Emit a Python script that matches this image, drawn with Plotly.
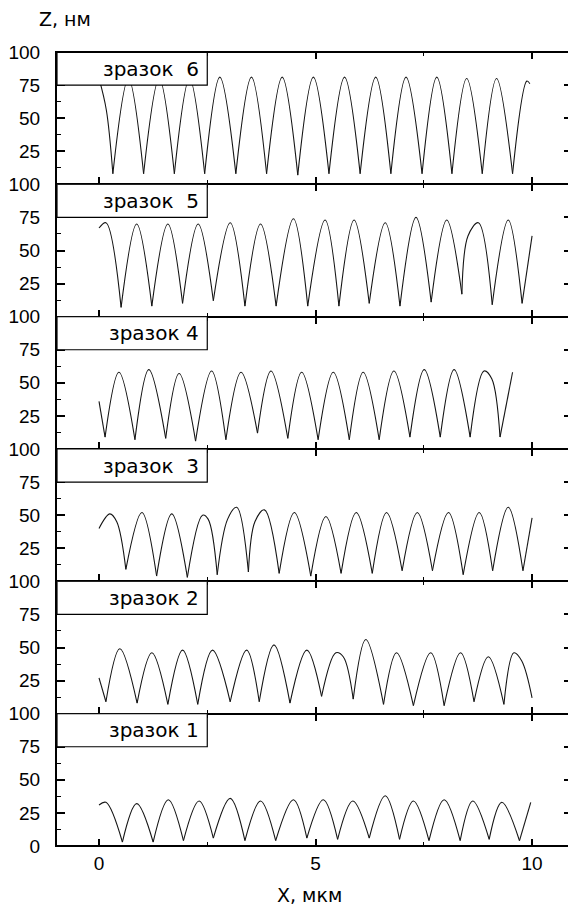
import plotly.graph_objects as go
from plotly.subplots import make_subplots

# ---- data: profile vertices, cusps = local minima ----
x6 = [0.0, 0.17, 0.32, 0.68, 1.03, 1.39, 1.74, 2.09, 2.44, 2.79, 3.16, 3.52, 3.87, 4.23, 4.59,
      4.95, 5.31, 5.67, 6.03, 6.39, 6.74, 7.09, 7.46, 7.80, 8.15, 8.49, 8.85, 9.18, 9.55, 9.88, 9.95]
z6 = [80, 56, 8, 80, 8, 80, 8, 80, 8, 81, 8, 81, 8, 81, 7,
      81, 8, 81, 8, 81, 8, 81, 8, 81, 8, 80, 8, 80, 8, 78, 76]

x5 = [0.0, 0.16, 0.51, 0.87, 1.22, 1.59, 1.93, 2.29, 2.64, 3.03, 3.37, 3.73, 4.09, 4.49, 4.82,
      5.22, 5.54, 5.89, 6.24, 6.61, 6.95, 7.32, 7.67, 8.03, 8.38, 8.52, 8.76, 9.08, 9.45, 9.77, 10.0]
z5 = [67, 71, 7, 70, 8, 70, 10, 70, 12, 71, 8, 70, 8, 74, 8,
      73, 8, 73, 10, 71, 8, 75, 11, 73, 17, 61, 71, 9, 73, 10, 61]

x4 = [0.0, 0.14, 0.46, 0.83, 1.15, 1.54, 1.85, 2.23, 2.60, 2.93, 3.28, 3.66, 3.97, 4.36, 4.68,
      5.06, 5.41, 5.78, 6.10, 6.47, 6.81, 7.18, 7.51, 7.88, 8.20, 8.57, 8.89, 9.07, 9.26, 9.55]
z4 = [36, 9, 58, 7, 60, 8, 57, 6, 59, 7, 58, 12, 59, 8, 58,
      7, 58, 7, 58, 7, 59, 9, 60, 9, 60, 9, 59, 53, 9, 58]

x3 = [0.0, 0.25, 0.41, 0.62, 0.99, 1.33, 1.68, 2.04, 2.39, 2.52, 2.73, 2.97, 3.18, 3.45, 3.60,
      3.82, 4.16, 4.51, 4.89, 5.24, 5.59, 5.94, 6.31, 6.64, 7.00, 7.35, 7.70, 8.07, 8.41, 8.78,
      9.09, 9.45, 9.79, 10.0]
z3 = [40, 51, 45, 9, 52, 4, 51, 3, 50, 47, 5, 47, 56, 7, 45,
      54, 6, 52, 4, 49, 6, 52, 6, 52, 8, 52, 8, 52, 5, 52,
      8, 56, 8, 48]

x2 = [0.0, 0.16, 0.48, 0.88, 1.22, 1.59, 1.93, 2.28, 2.62, 3.03, 3.41, 3.70, 4.04, 4.41, 4.80,
      5.14, 5.47, 5.64, 5.87, 6.16, 6.57, 6.87, 7.26, 7.66, 7.97, 8.35, 8.66, 8.99, 9.35, 9.58,
      9.76, 10.0]
z2 = [27, 9, 49, 8, 46, 7, 48, 7, 48, 9, 48, 9, 52, 8, 48,
      13, 46, 43, 11, 56, 7, 46, 6, 46, 6, 46, 9, 43, 7, 46,
      40, 12]

x1 = [0.0, 0.16, 0.54, 0.87, 1.25, 1.60, 1.95, 2.31, 2.64, 3.03, 3.37, 3.73, 4.08, 4.49, 4.80,
      5.18, 5.51, 5.86, 6.24, 6.61, 6.94, 7.26, 7.62, 7.97, 8.34, 8.63, 9.01, 9.30, 9.71, 9.97]
z1 = [31, 33, 3, 32, 3, 35, 4, 34, 6, 36, 4, 34, 4, 35, 6,
      35, 5, 34, 6, 38, 5, 34, 4, 35, 4, 34, 5, 33, 4, 33]

labels = ["зразок\u00a0 6", "зразок\u00a0 5", "зразок 4", "зразок\u00a0 3", "зразок 2", "зразок 1"]
series = [(x6, z6), (x5, z5), (x4, z4), (x3, z3), (x2, z2), (x1, z1)]

x_ticks = [0, 5, 10]
x_minor = [2.5, 7.5]
y_ticks = [25, 50, 75, 100]
y_ticks_bottom = [0, 25, 50, 75, 100]
y_minor = [12.5, 37.5, 62.5, 87.5]

XR = [-0.97, 10.83]
YR = [0, 100]


def split_at_cusps(xs, zs):
    """Break the polyline at local minima so each arch is smoothed separately."""
    X, Z = [], []
    s = 0
    for i in range(1, len(zs) - 1):
        if zs[i] < zs[i - 1] and zs[i] < zs[i + 1]:
            X += xs[s:i + 1] + [None]
            Z += zs[s:i + 1] + [None]
            s = i
    X += xs[s:]
    Z += zs[s:]
    return X, Z


fig = make_subplots(rows=6, cols=1, shared_xaxes=True, vertical_spacing=0)

for r, (xs, zs) in enumerate(series, start=1):
    X, Z = split_at_cusps(xs, zs)
    fig.add_trace(go.Scatter(x=X, y=Z, mode="lines", connectgaps=False,
                             line=dict(color="#151515", width=1.1, shape="spline", smoothing=1),
                             hoverinfo="skip", showlegend=False), row=r, col=1)

AX_FONT = dict(family="Liberation Sans, Arial, sans-serif", size=19, color="#000000")

for r in range(1, 7):
    bottom = (r == 6)
    lw = 2 if r in (1, 6) else 1
    fig.update_xaxes(row=r, col=1, range=XR, showline=True, linewidth=1.2, linecolor="#000",
                     mirror="ticks", ticks="inside", ticklen=7, tickwidth=1.6, tickcolor="#000",
                     tickvals=x_ticks, ticktext=[str(v) for v in x_ticks],
                     minor=dict(tickvals=x_minor, ticks="inside", ticklen=4, tickwidth=1.4,
                                tickcolor="#000", showgrid=False),
                     showgrid=False, zeroline=False, showticklabels=bottom,
                     tickfont=AX_FONT, fixedrange=True)
    tv = y_ticks_bottom if bottom else y_ticks
    fig.update_yaxes(row=r, col=1, range=YR, showline=True, linewidth=2, linecolor="#000",
                     mirror=False, ticks="inside", ticklen=8, tickwidth=1.6, tickcolor="#000",
                     tickvals=tv, ticktext=[str(v) for v in tv],
                     minor=dict(tickvals=y_minor, ticks="inside", ticklen=4, tickwidth=1.4,
                                tickcolor="#000", showgrid=False),
                     showgrid=False, zeroline=False, tickfont=AX_FONT,
                     ticklabelstandoff=11, fixedrange=True)

# right-side mirror ticks without a visible right axis line
for r in range(1, 7):
    ya = "y" if r == 1 else f"y{r}"
    xa = "x" if r == 1 else f"x{r}"
    n = 6 + r
    fig.add_trace(go.Scatter(x=[None], y=[None], xaxis=xa, yaxis=f"y{n}",
                             hoverinfo="skip", showlegend=False))
    fig.layout[f"yaxis{n}"] = dict(overlaying=ya, anchor=xa, side="right", range=YR,
                                   tickvals=[25, 50, 75], ticks="inside", ticklen=4,
                                   tickwidth=1.6, tickcolor="#000", showticklabels=False,
                                   showline=False, showgrid=False, zeroline=False,
                                   fixedrange=True)

# sample label boxes
for r, lab in enumerate(labels, start=1):
    xref = "x" if r == 1 else f"x{r}"
    yref = "y" if r == 1 else f"y{r}"
    fig.add_shape(type="rect", xref=xref, yref=yref, x0=XR[0], x1=2.5, y0=75, y1=100,
                  line=dict(color="#000", width=1.2), fillcolor="white", layer="above")
    fig.add_annotation(xref=xref, yref=yref, x=2.5, y=87.5, xanchor="right", yanchor="middle",
                       xshift=-6, text=lab, showarrow=False,
                       font=dict(family="DejaVu Sans, Verdana, sans-serif", size=20, color="#000"))

# outer frame top / bottom edges a bit heavier, like the reference
fig.add_shape(type="line", xref="paper", yref="paper", x0=0, x1=1, y0=1, y1=1,
              line=dict(color="#000", width=2.2), layer="above")
fig.add_shape(type="line", xref="paper", yref="paper", x0=0, x1=1, y0=0, y1=0,
              line=dict(color="#000", width=2.2), layer="above")

fig.add_annotation(xref="paper", yref="paper", x=-0.039, y=1.041, xanchor="left",
                   yanchor="middle", text="Z, нм", showarrow=False,
                   font=dict(family="DejaVu Sans, Verdana, sans-serif", size=19, color="#000"))
fig.add_annotation(xref="paper", yref="paper", x=0.494, y=-0.062, xanchor="center",
                   yanchor="middle", text="X, мкм", showarrow=False,
                   font=dict(family="DejaVu Sans, Verdana, sans-serif", size=19, color="#000"))

fig.update_layout(width=568, height=906, margin=dict(l=57, r=0, t=52, b=60),
                  paper_bgcolor="white", plot_bgcolor="white", showlegend=False)

fig.write_html("out.html")
